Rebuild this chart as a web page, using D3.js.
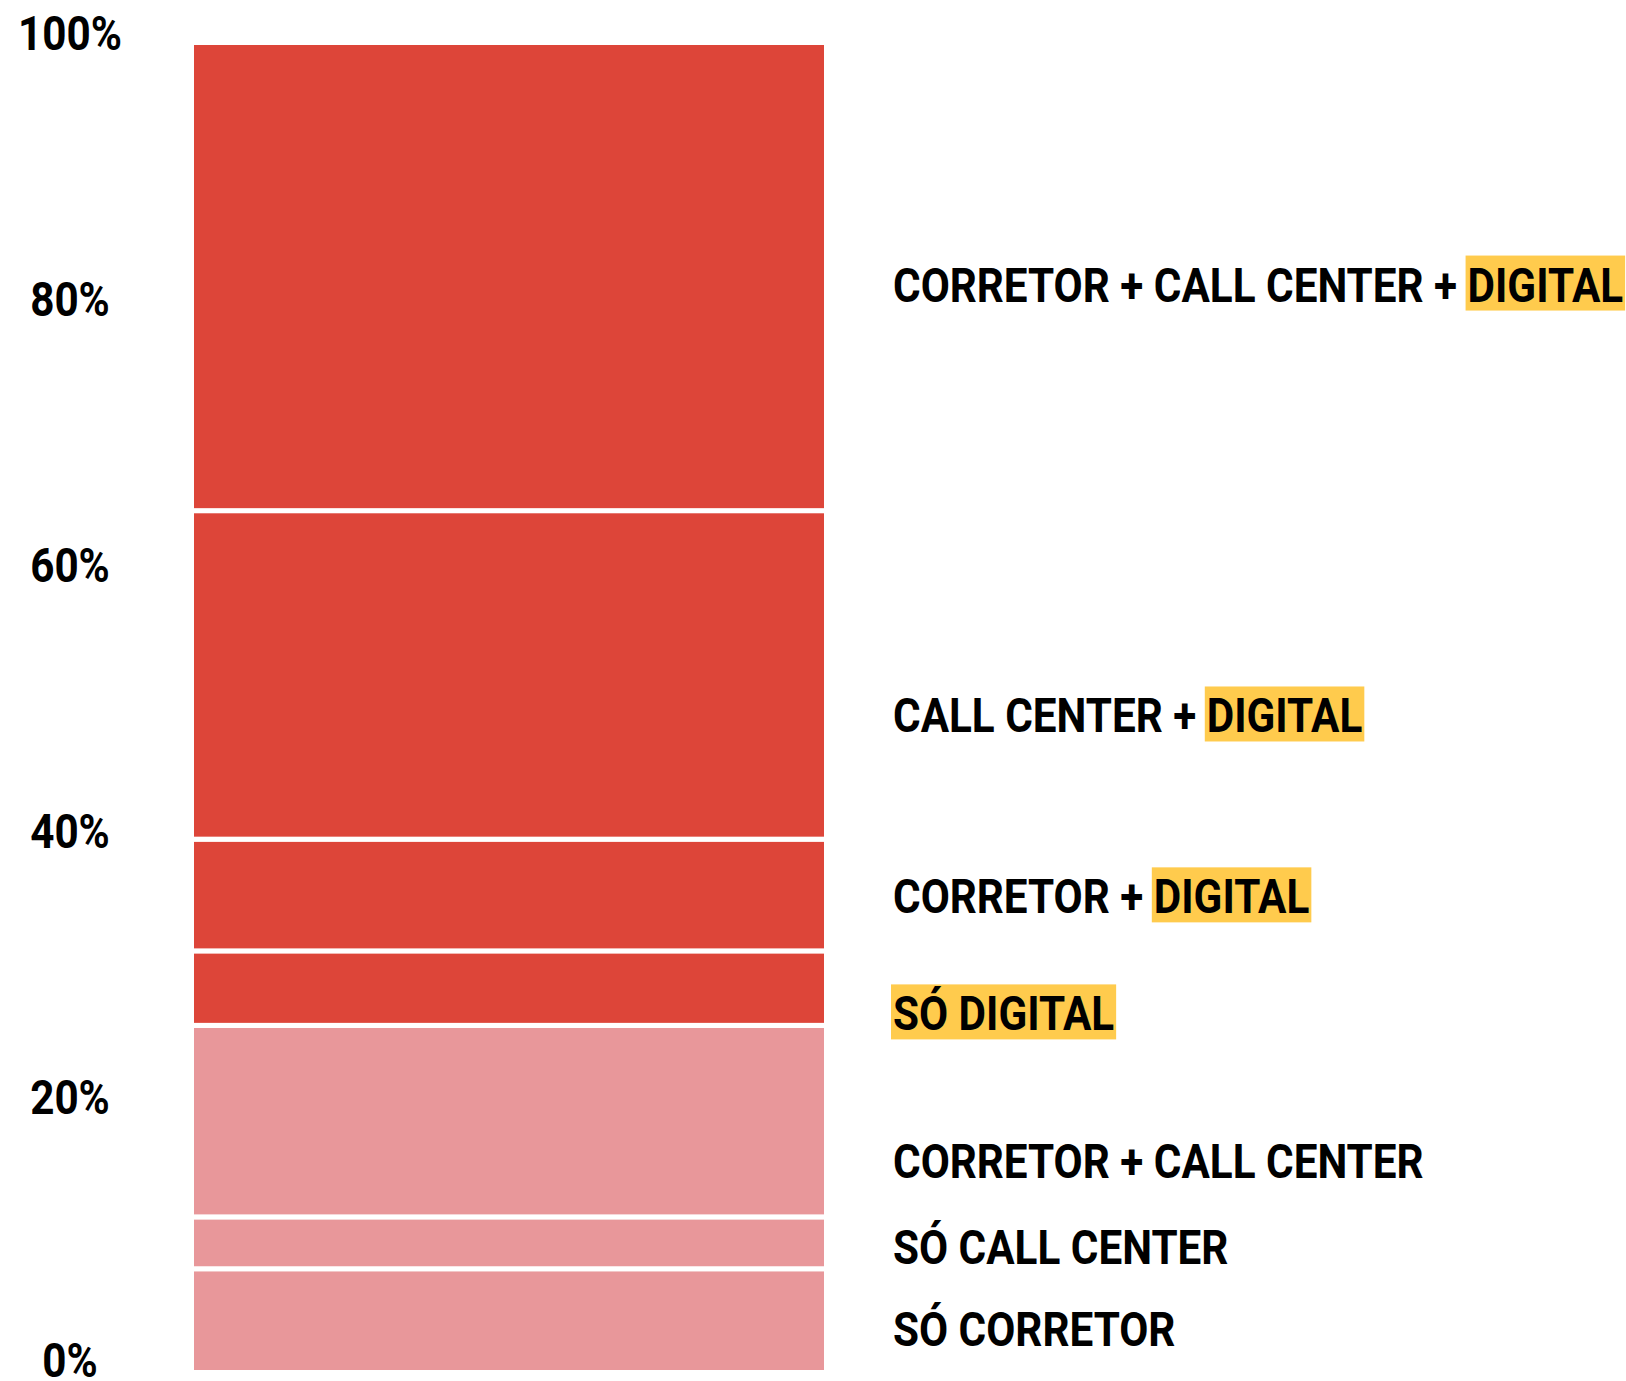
<!DOCTYPE html>
<html>
<head>
<meta charset="utf-8">
<script src="https://cdn.jsdelivr.net/npm/d3@7"></script>
<style>
  body { margin: 0; background: #fff; }
  text { font-family: Roboto, "Noto Sans", sans-serif; font-weight: 700; }
</style>
</head>
<body>
<div id="chart"></div>
<script>
// categories, bottom to top
var categories = [
  "SÓ CORRETOR",
  "SÓ CALL CENTER",
  "CORRETOR + CALL CENTER",
  "SÓ DIGITAL",
  "CORRETOR + DIGITAL",
  "CALL CENTER + DIGITAL",
  "CORRETOR + CALL CENTER + DIGITAL"
];
// share of each segment (%)
var shares = [7.8, 3.9, 14.4, 5.6, 8.4, 24.7, 35.2];
// where each label sits on the axis (%)
var labelAt = [3.3, 9.4, 15.9, 27.0, 35.8, 49.4, 81.8];
// part of each label marked in yellow
var highlights = ["", "", "", "SÓ DIGITAL", "DIGITAL", "DIGITAL", "DIGITAL"];
var tickValues = [0, 20, 40, 60, 80, 100];

var width = 1626, height = 1381;
var squeeze = 0.88; // condensed look

var svg = d3.select("#chart")
  .append("svg")
    .attr("width", width)
    .attr("height", height);

var y = d3.scaleLinear()
  .domain([0, 100])
  .range([1372.5, 42.5]);

var x = d3.scaleBand()
  .domain(["bar"])
  .range([191.5, 826.5])
  .padding(0);

var tops = d3.cumsum(shares);
var segs = categories.map(function(c, i) {
  return { name: c, y0: tops[i] - shares[i], y1: tops[i], label: labelAt[i], mark: highlights[i] };
});

// the stacked bar
svg.append("g")
  .selectAll("rect")
  .data(segs)
  .join("rect")
    .attr("x", x("bar"))
    .attr("width", x.bandwidth())
    .attr("y", function(d) { return y(d.y1); })
    .attr("height", function(d) { return y(d.y0) - y(d.y1); })
    .attr("fill", function(d) { return d.mark ? "#DD4539" : "#E8979A"; })
    .attr("stroke", "#fff")
    .attr("stroke-width", 5);

// Y axis, labels only
var axis = svg.append("g")
  .attr("transform", "translate(70,0)")
  .call(d3.axisLeft(y).tickValues(tickValues).tickSize(0).tickFormat(function(d) { return d + "%"; }));
axis.select(".domain").remove();
axis.selectAll("text")
  .attr("x", 0)
  .attr("y", function(d) { return d === 0 ? 4 : 7; })
  .attr("dy", 0)
  .attr("text-anchor", "middle")
  .attr("fill", "#000")
  .style("font-size", "48px")
  .style("font-family", "Roboto, sans-serif")
  .style("font-weight", 700)
  .attr("transform", "scale(" + squeeze + ",1)");

// category labels
var labels = svg.append("g")
  .selectAll("g")
  .data(segs)
  .join("g")
    .attr("transform", function(d) { return "translate(893," + (y(d.label) + 17) + ") scale(" + squeeze + ",1)"; });

labels.each(function(d) {
  var g = d3.select(this);
  var k = d.mark ? d.name.indexOf(d.mark) : -1;
  var plain = k >= 0 ? d.name.slice(0, k) : d.name;
  var offset = 0;
  if (plain.length) {
    var t = g.append("text")
      .attr("font-size", 48)
      .attr("fill", "#000")
      .attr("xml:space", "preserve")
      .text(plain);
    offset = t.node().getComputedTextLength();
  }
  if (k >= 0) {
    var box = g.append("rect");
    var h = g.append("text")
      .attr("x", offset)
      .attr("font-size", 48)
      .attr("fill", "#000")
      .text(d.mark);
    var w = h.node().getComputedTextLength();
    box.attr("x", offset - 2 / squeeze)
      .attr("y", -46)
      .attr("width", w + 4 / squeeze)
      .attr("height", 55)
      .attr("fill", "#FFCB4D");
  }
});
</script>
</body>
</html>
